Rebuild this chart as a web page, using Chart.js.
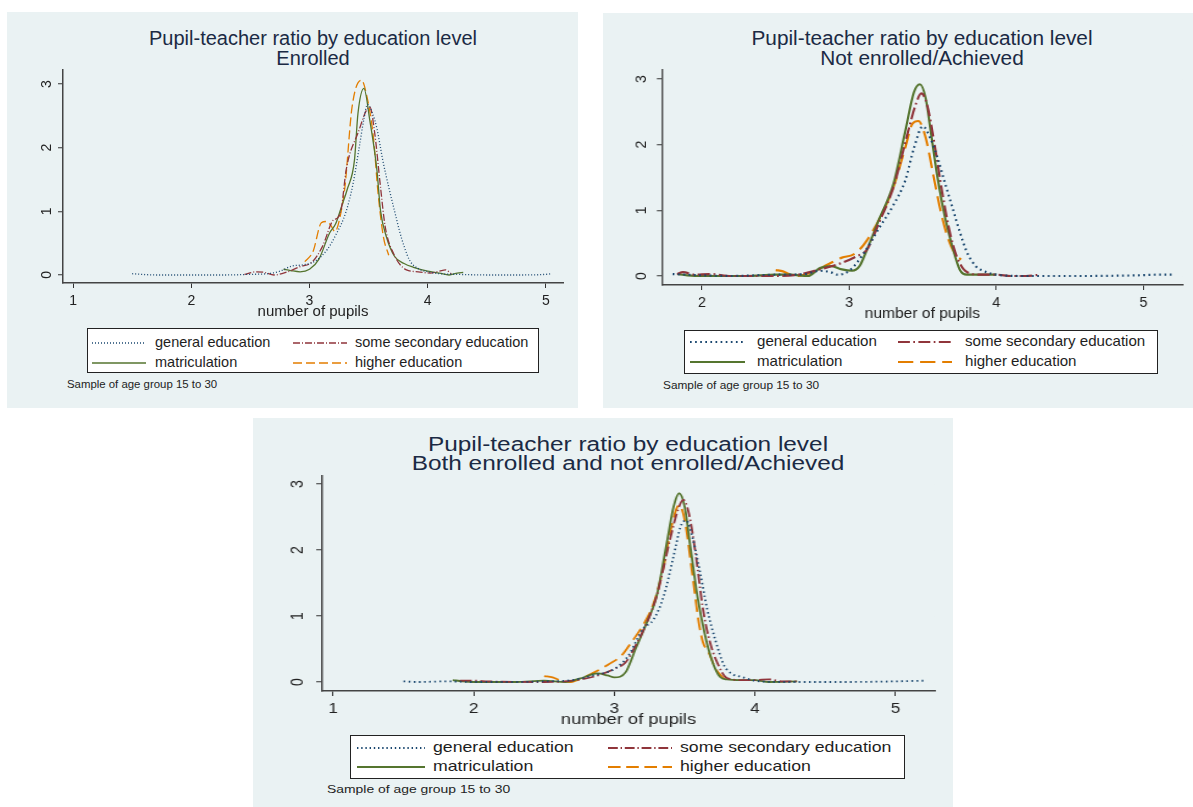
<!DOCTYPE html>
<html>
<head>
<meta charset="utf-8">
<script src="https://cdn.jsdelivr.net/npm/chart.js@4/dist/chart.umd.min.js"></script>
<style>
body { margin: 0; background: #fff; font-family: "Liberation Sans", Arial, sans-serif; }
.panel { position: absolute; background: #eaf2f3; }
.txt { position: absolute; white-space: nowrap; line-height: 1; }
.legend { position: absolute; box-sizing: border-box; border: 1.5px solid #222; background: #fff; }
</style>
</head>
<body>
<script>
// 共通
const seriesNames = ['general education', 'some secondary education', 'matriculation', 'higher education'];
const seriesColors = ['#1a476f', '#90353b', '#55752f', '#e37e00'];
const seriesDash = [[1, 2], [7, 2, 1, 2], [], [9, 4]];
const yTicks = [0, 1, 2, 3];
const xTicksFull = [1, 2, 3, 4, 5];
const xTicksShort = [2, 3, 4, 5];
const titleText = 'Pupil-teacher ratio by education level';
const subTitles = ['Enrolled', 'Not enrolled/Achieved', 'Both enrolled and not enrolled/Achieved'];
const xTitleText = 'number of pupils';
const noteText = 'Sample of age group 15 to 30';

// Enrolled
const enrGenX = [1.50,1.58,1.70,2.00,2.30,2.50,2.65,2.75,2.85,2.95,3.05,3.15,3.22,3.31,3.37,3.42,3.46,3.49,3.53,3.57,3.62,3.67,3.72,3.76,3.80,3.85,3.92,4.00,4.10,4.25,4.50,4.80,5.00,5.05];
const enrGenY = [0.02,0.01,0.00,0.00,0.00,0.01,0.02,0.06,0.14,0.16,0.22,0.40,0.62,1.00,1.45,2.00,2.45,2.68,2.55,2.30,1.80,1.38,1.00,0.70,0.45,0.22,0.10,0.05,0.02,0.01,0.00,0.00,0.01,0.02];
const enrSomeX = [2.45,2.55,2.62,2.70,2.80,2.92,3.02,3.11,3.20,3.24,3.27,3.31,3.41,3.51,3.55,3.60,3.64,3.71,3.82,3.92,4.02,4.10,4.15,4.20];
const enrSomeY = [0.01,0.05,0.04,0.00,0.04,0.13,0.20,0.45,0.86,0.90,1.05,1.65,2.23,2.64,2.25,1.39,0.76,0.34,0.08,0.05,0.03,0.06,0.08,0.02];
const enrMatX = [2.78,2.84,2.92,3.00,3.08,3.17,3.22,3.27,3.32,3.38,3.41,3.46,3.51,3.57,3.60,3.65,3.72,3.80,3.88,4.00,4.10,4.18,4.25,4.30];
const enrMatY = [0.09,0.07,0.05,0.09,0.25,0.66,0.80,1.07,1.35,1.80,2.54,2.93,2.43,1.65,1.02,0.60,0.29,0.18,0.12,0.06,0.03,0.00,0.03,0.04];
const enrHighX = [2.96,3.03,3.10,3.14,3.18,3.215,3.27,3.30,3.36,3.44,3.48,3.54,3.58,3.625,3.67];
const enrHighY = [0.21,0.37,0.82,0.84,0.78,0.68,1.02,1.39,2.64,3.06,2.85,2.17,1.28,0.60,0.31];

// Not enrolled/Achieved
const notGenX = [1.80,1.90,2.00,2.20,2.50,2.70,2.80,2.87,2.92,3.00,3.10,3.20,3.30,3.38,3.44,3.50,3.55,3.60,3.65,3.70,3.75,3.80,3.86,3.92,4.00,4.20,4.60,4.95,5.10,5.20];
const notGenY = [0.03,0.02,0.01,0.00,0.02,0.03,0.08,0.06,0.02,0.08,0.35,0.72,1.08,1.45,1.95,2.28,2.10,1.80,1.42,1.05,0.68,0.36,0.15,0.07,0.02,0.00,0.00,0.01,0.02,0.02];
const notSomeX = [1.83,1.87,1.95,2.05,2.20,2.50,2.65,2.80,2.95,3.05,3.12,3.20,3.30,3.40,3.45,3.49,3.53,3.58,3.63,3.68,3.73,3.80,3.90,4.00,4.10,4.20,4.30];
const notSomeY = [0.03,0.06,0.02,0.03,0.00,0.00,0.02,0.10,0.20,0.30,0.40,0.80,1.35,2.20,2.60,2.78,2.60,2.00,1.30,0.70,0.30,0.06,0.02,0.02,0.00,0.00,0.02];
const notMatX = [1.83,1.90,2.00,2.30,2.50,2.60,2.72,2.80,2.88,2.95,3.02,3.07,3.12,3.20,3.30,3.38,3.44,3.48,3.52,3.56,3.60,3.65,3.70,3.75,3.80,3.90,4.00];
const notMatY = [0.03,0.01,0.00,0.00,0.02,0.02,0.00,0.12,0.15,0.10,0.08,0.15,0.40,0.85,1.40,2.20,2.80,2.92,2.70,2.10,1.50,0.90,0.45,0.10,0.02,0.02,0.02];
const notHighX = [2.50,2.55,2.60,2.65,2.75,2.85,2.95,3.03,3.10,3.20,3.30,3.38,3.43,3.47,3.52,3.57,3.62,3.67,3.72,3.76];
const notHighY = [0.09,0.07,0.02,0.00,0.06,0.17,0.28,0.33,0.48,0.85,1.35,1.95,2.32,2.36,2.10,1.55,1.00,0.58,0.33,0.25];

// Both
const bothGenX = [1.50,1.60,1.80,2.00,2.30,2.50,2.70,2.85,3.00,3.10,3.20,3.28,3.35,3.42,3.47,3.51,3.56,3.61,3.66,3.72,3.78,3.84,3.90,4.00,4.20,4.60,5.00,5.20];
const bothGenY = [0.01,0.00,0.01,0.00,0.00,0.01,0.03,0.10,0.20,0.40,0.80,0.95,1.30,1.90,2.35,2.45,2.15,1.65,1.10,0.62,0.25,0.12,0.08,0.02,0.00,0.00,0.01,0.02];
const bothSomeX = [1.90,2.00,2.10,2.50,2.70,2.85,3.00,3.08,3.15,3.22,3.30,3.40,3.45,3.49,3.53,3.58,3.63,3.68,3.73,3.80,3.90,4.00,4.10,4.20,4.30];
const bothSomeY = [0.02,0.02,0.01,0.00,0.02,0.08,0.20,0.30,0.55,0.85,1.30,2.20,2.60,2.76,2.55,1.90,1.10,0.60,0.30,0.06,0.03,0.03,0.04,0.01,0.01];
const bothMatX = [1.85,1.92,2.00,2.30,2.50,2.65,2.75,2.88,2.95,3.00,3.08,3.15,3.22,3.30,3.38,3.42,3.46,3.50,3.54,3.59,3.64,3.69,3.75,3.80,3.90,4.00,4.10,4.30];
const bothMatY = [0.03,0.01,0.00,0.00,0.02,0.00,0.05,0.13,0.10,0.07,0.15,0.50,0.85,1.30,2.20,2.65,2.86,2.65,2.05,1.30,0.75,0.35,0.08,0.04,0.03,0.03,0.00,0.01];
const bothHighX = [2.50,2.56,2.62,2.68,2.76,2.86,2.96,3.05,3.12,3.20,3.28,3.35,3.40,3.46,3.50,3.55,3.60,3.63,3.67,3.72,3.78];
const bothHighY = [0.09,0.07,0.02,0.00,0.05,0.15,0.27,0.40,0.60,0.85,1.20,1.75,2.30,2.68,2.45,1.70,0.90,0.60,0.45,0.20,0.05];

const FONT = '"Liberation Sans", Arial, sans-serif';
Chart.defaults.font.family = FONT;

// パネルの配置 (ページ座標)
const panels = [
    {
        bg: {l: 7, t: 12, w: 571, h: 396},
        area: {l: 63, t: 70, r: 563, b: 283},
        sx: 1, yw: 40, xh: 38, xmin: 0.915, xmax: 5.144, ymin: -0.126, ymax: 3.22,
        xTicks: xTicksFull, lw: 1.3, dashK: 1, yOff: 16, tickPad: 5,
        titleY: [38, 58], legend: {l: 87, t: 328, w: 452, h: 45, rows: [15, 35], samp: [[5, 59], [206, 260]], text: [68, 268]},
        note: {l: 67, y: 385},
        series: [[enrGenX, enrGenY], [enrSomeX, enrSomeY], [enrMatX, enrMatY], [enrHighX, enrHighY]]
    },
    {
        bg: {l: 603, t: 13, w: 590, h: 395},
        area: {l: 662, t: 70, r: 1182, b: 285},
        sx: 1.04, yw: 38.5, xh: 38, xmin: 1.728, xmax: 5.265, ymin: -0.137, ymax: 3.137,
        xTicks: xTicksShort, lw: 2.2, dashK: 1.7, yOff: 19, tickPad: 5,
        titleY: [38, 58], legend: {l: 684, t: 330, w: 474, h: 44, rows: [12, 32], samp: [[6, 61], [214, 268]], text: [73, 281]},
        note: {l: 663, y: 386},
        series: [[notGenX, notGenY], [notSomeX, notSomeY], [notMatX, notMatY], [notHighX, notHighY]]
    },
    {
        bg: {l: 253, t: 418, w: 700, h: 389},
        area: {l: 322, t: 476, r: 934, b: 691},
        sx: 1.22, yw: 33, xh: 38, xmin: 0.922, xmax: 5.278, ymin: -0.136, ymax: 3.121,
        xTicks: xTicksFull, lw: 1.8, dashK: 1.4, yOff: 19.5, tickPad: 5,
        titleY: [444, 463], legend: {l: 350, t: 735, w: 555, h: 44, rows: [13, 32], samp: [[7, 75], [258, 322]], text: [83, 330]},
        note: {l: 327, y: 790},
        series: [[bothGenX, bothGenY], [bothSomeX, bothSomeY], [bothMatX, bothMatY], [bothHighX, bothHighY]]
    }
];

// Y軸の目盛ラベルを縦向きに描く
const rotatedYLabels = {
    id: 'rotatedYLabels',
    afterDraw(chart, args, opts) {
        const sc = chart.scales.y;
        const ctx = chart.ctx;
        ctx.save();
        ctx.font = opts.size + 'px ' + FONT;
        ctx.fillStyle = '#222';
        ctx.textAlign = 'center';
        ctx.textBaseline = 'middle';
        sc.ticks.forEach(t => {
            ctx.save();
            ctx.translate(sc.right - opts.offset, sc.getPixelForValue(t.value));
            ctx.rotate(-Math.PI / 2);
            ctx.fillText(String(t.value), 0, 0);
            ctx.restore();
        });
        ctx.restore();
    }
};

function addText(str, left, top, size, color, sx, centered) {
    const d = document.createElement('div');
    d.className = 'txt';
    d.textContent = str;
    d.style.left = left + 'px';
    d.style.top = top + 'px';
    d.style.fontSize = size + 'px';
    d.style.color = color;
    if (centered) {
        d.style.transform = `translateX(-50%) scaleX(${sx})`;
    } else {
        d.style.transformOrigin = '0 0';
        d.style.transform = `scaleX(${sx})`;
    }
    document.body.appendChild(d);
}

function buildPanel(p, idx) {
    // 背景
    const bg = document.createElement('div');
    bg.className = 'panel';
    bg.style.cssText = `left:${p.bg.l}px;top:${p.bg.t}px;width:${p.bg.w}px;height:${p.bg.h}px`;
    document.body.appendChild(bg);

    // タイトル
    const cx = (p.area.l + p.area.r) / 2;
    const tSize = 20;
    addText(titleText, cx, p.titleY[0] - tSize * 0.52, tSize, '#1b2a44', p.sx, true);
    addText(subTitles[idx], cx, p.titleY[1] - tSize * 0.52, tSize, '#1b2a44', p.sx, true);

    // キャンバス
    const cl = p.area.l - p.yw * p.sx;
    const cw = Math.round((p.area.r - cl) / p.sx + 2);
    const ct = p.area.t - 2;
    const ch = p.area.b + p.xh - ct;
    const wrap = document.createElement('div');
    wrap.style.cssText = `position:absolute;left:${cl}px;top:${ct}px;width:${cw}px;height:${ch}px;transform:scaleX(${p.sx});transform-origin:0 0`;
    const cv = document.createElement('canvas');
    cv.width = cw;
    cv.height = ch;
    wrap.appendChild(cv);
    document.body.appendChild(wrap);

    const datasets = p.series.map((s, i) => ({
        label: seriesNames[i],
        data: s[0].map((x, k) => ({x: x, y: s[1][k]})),
        showLine: true,
        borderColor: seriesColors[i],
        borderWidth: p.lw,
        borderDash: seriesDash[i].map(v => v * p.dashK),
        pointRadius: 0,
        tension: 0.4,
        cubicInterpolationMode: 'monotone',
        fill: false
    }));

    new Chart(cv, {
        type: 'scatter',
        data: {datasets: datasets},
        options: {
            responsive: false,
            animation: false,
            events: [],
            layout: {padding: {top: 2, right: 2, left: 0, bottom: 0}},
            plugins: {
                legend: {display: false},
                tooltip: {enabled: false},
                rotatedYLabels: {size: 14, offset: p.yOff}
            },
            scales: {
                x: {
                    type: 'linear',
                    min: p.xmin,
                    max: p.xmax,
                    afterFit: s => { s.height = p.xh; },
                    afterBuildTicks: s => { s.ticks = p.xTicks.map(v => ({value: v})); },
                    grid: {drawOnChartArea: false, drawTicks: true, tickLength: 5, tickColor: '#333', tickWidth: 1},
                    border: {color: '#444', width: 1.5},
                    ticks: {padding: p.tickPad, color: '#222', font: {size: 14}, maxRotation: 0},
                    title: {display: true, text: xTitleText, color: '#222', font: {size: 15}, padding: 0}
                },
                y: {
                    type: 'linear',
                    min: p.ymin,
                    max: p.ymax,
                    afterFit: s => { s.width = p.yw; },
                    afterBuildTicks: s => { s.ticks = yTicks.map(v => ({value: v})); },
                    grid: {color: '#eaf2f3', lineWidth: 1.5, drawTicks: true, tickLength: 5, tickColor: '#333', tickWidth: 1},
                    border: {color: '#444', width: 1.5},
                    ticks: {display: false}
                }
            }
        },
        plugins: [rotatedYLabels]
    });

    // 凡例
    const lg = p.legend;
    const box = document.createElement('div');
    box.className = 'legend';
    box.style.cssText = `left:${lg.l}px;top:${lg.t}px;width:${lg.w}px;height:${lg.h}px`;
    document.body.appendChild(box);
    const svgNS = 'http://www.w3.org/2000/svg';
    const svg = document.createElementNS(svgNS, 'svg');
    svg.setAttribute('width', lg.w);
    svg.setAttribute('height', lg.h);
    svg.style.cssText = `position:absolute;left:${lg.l}px;top:${lg.t}px`;
    document.body.appendChild(svg);
    const lSize = 14.5;
    seriesNames.forEach((name, i) => {
        const col = i % 2, row = Math.floor(i / 2);
        const ln = document.createElementNS(svgNS, 'line');
        ln.setAttribute('x1', lg.samp[col][0]);
        ln.setAttribute('x2', lg.samp[col][1]);
        ln.setAttribute('y1', lg.rows[row]);
        ln.setAttribute('y2', lg.rows[row]);
        ln.setAttribute('stroke', seriesColors[i]);
        ln.setAttribute('stroke-width', p.lw);
        if (seriesDash[i].length) ln.setAttribute('stroke-dasharray', seriesDash[i].map(v => v * p.dashK).join(' '));
        svg.appendChild(ln);
        addText(name, lg.l + lg.text[col], lg.t + lg.rows[row] - lSize * 0.55, lSize, '#1e1e1e', p.sx, false);
    });

    // 注記
    addText(noteText, p.note.l, p.note.y - 11.4 * 0.55, 11.4, '#222', p.sx, false);
}

panels.forEach(buildPanel);
</script>
</body>
</html>
